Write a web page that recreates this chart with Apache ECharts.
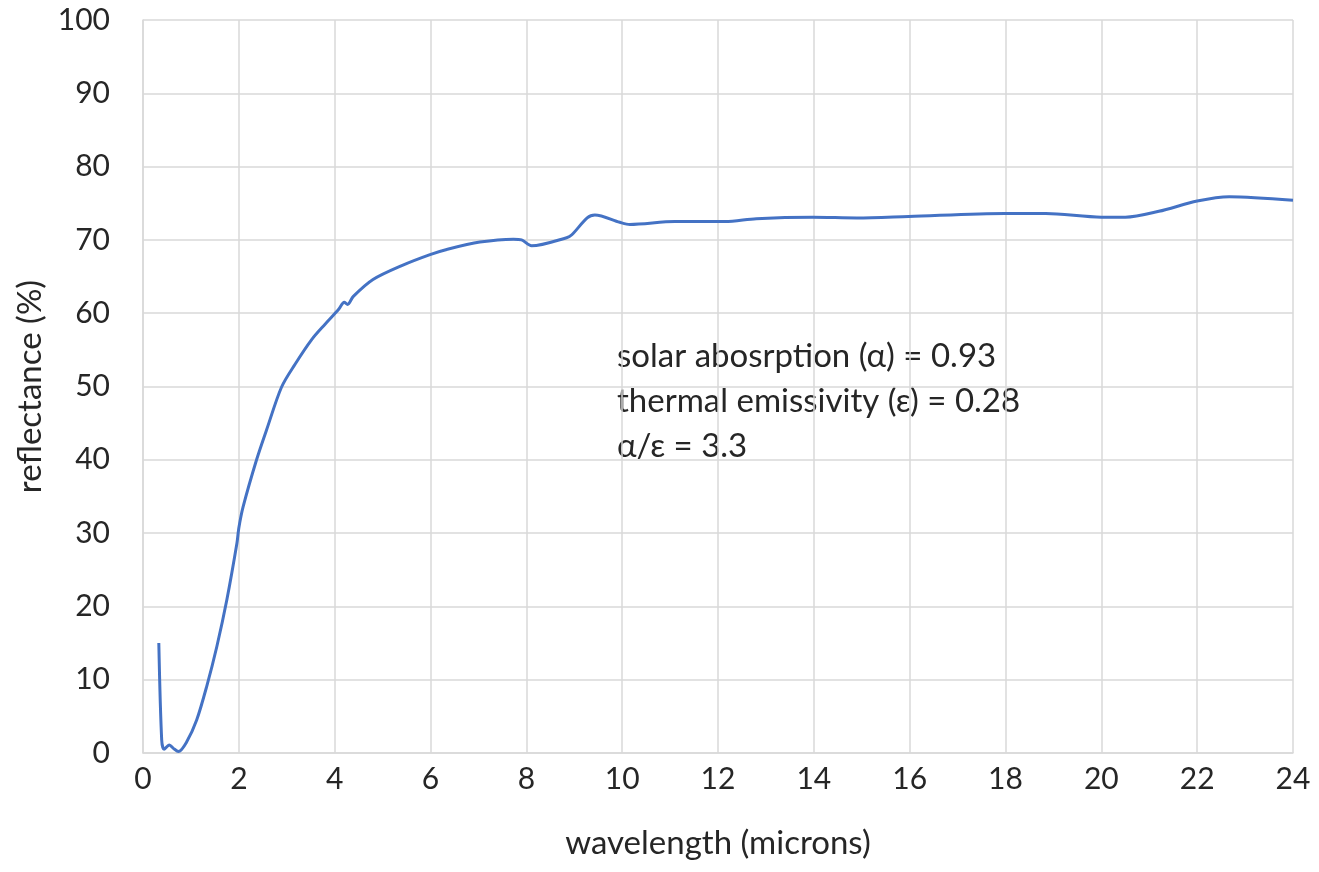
<!DOCTYPE html>
<html>
<head>
<meta charset="utf-8">
<script src="https://cdn.jsdelivr.net/npm/echarts@6/dist/echarts.min.js"></script>
<style>
html,body{margin:0;padding:0;background:#fff;}
#chart{width:1319px;height:872px;}
</style>
</head>
<body>
<div id="chart"></div>
<script>
// wavelength (microns)
var wavelength = [0.33, 0.39, 0.44, 0.55, 0.64, 0.74, 0.91, 1.12, 1.33, 1.54, 1.75, 1.96, 2.0, 2.09, 2.37, 2.58, 2.89, 3.17, 3.52, 3.80, 4.08, 4.20, 4.27, 4.39, 4.8, 5.4, 5.99, 6.34, 7.03, 7.73, 7.9, 8.11, 8.84, 8.95, 9.27, 9.43, 9.95, 10.16, 11.1, 12.15, 12.8, 13.98, 14.9, 15.98, 17.99, 18.84, 20.0, 20.5, 21.2, 22.0, 22.67, 24.0];
// reflectance (%)
var reflectance = [15.0, 1.8, 0.5, 1.1, 0.6, 0.2, 1.5, 4.5, 9.1, 14.5, 20.9, 28.6, 30.7, 33.6, 40.0, 44.1, 49.9, 53.0, 56.4, 58.5, 60.5, 61.5, 61.2, 62.3, 64.6, 66.5, 68.0, 68.7, 69.7, 70.1, 70.0, 69.2, 70.3, 70.7, 73.0, 73.4, 72.4, 72.1, 72.5, 72.5, 72.9, 73.1, 73.0, 73.2, 73.6, 73.6, 73.1, 73.1, 73.9, 75.3, 75.9, 75.4];
var annotationLines = ['solar abosrption (\u03b1) = 0.93', 'thermal emissivity (\u03b5) = 0.28', '\u03b1/\u03b5 = 3.3'];

var seriesData = wavelength.map(function (w, i) { return [w, reflectance[i]]; });
var font = 'Lato, "Open Sans", sans-serif';
var chart = echarts.init(document.getElementById('chart'));
chart.setOption({
  animation: false,
  backgroundColor: '#ffffff',
  grid: { left: 143, right: 26, top: 20, bottom: 119, containLabel: false },
  xAxis: {
    type: 'value', min: 0, max: 24, interval: 2,
    name: 'wavelength (microns)', nameLocation: 'middle', nameGap: 74,
    nameTextStyle: { fontFamily: font, fontSize: 33, color: '#262626' },
    axisLine: { show: true, lineStyle: { color: '#d9d9d9', width: 1.5 } },
    axisTick: { show: false },
    axisLabel: { fontFamily: font, fontSize: 30, color: '#262626', margin: 11 },
    splitLine: { show: true, lineStyle: { color: '#d9d9d9', width: 1.5 } }
  },
  yAxis: {
    type: 'value', min: 0, max: 100, interval: 10,
    name: 'reflectance (%)', nameLocation: 'middle', nameGap: 90, nameRotate: 90,
    nameTextStyle: { fontFamily: font, fontSize: 33, color: '#262626' },
    axisLine: { show: true, lineStyle: { color: '#d9d9d9', width: 1.5 } },
    axisTick: { show: false },
    axisLabel: { fontFamily: font, fontSize: 30, color: '#262626', margin: 33 },
    splitLine: { show: true, lineStyle: { color: '#d9d9d9', width: 1.5 } }
  },
  series: [{
    type: 'line',
    data: seriesData,
    smooth: 0.3,
    showSymbol: false,
    lineStyle: { color: '#4472C4', width: 3 }
  }],
  graphic: [{
    type: 'text',
    left: 617, top: 334,
    style: {
      text: annotationLines.join('\n'),
      font: '33px ' + font,
      fill: '#262626',
      lineHeight: 45
    }
  }]
});
</script>
</body>
</html>
